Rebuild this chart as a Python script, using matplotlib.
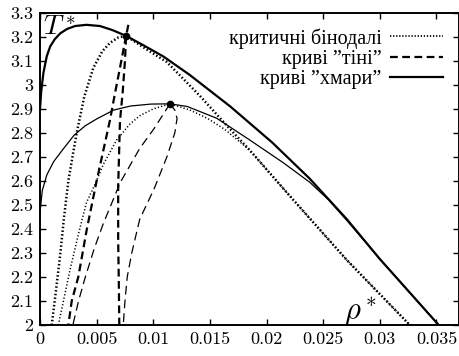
import matplotlib
matplotlib.use("Agg")
import matplotlib.pyplot as plt

plt.rcParams['font.family'] = ['cmr10', 'DejaVu Serif']
plt.rcParams['mathtext.fontset'] = 'cm'
plt.rcParams['axes.formatter.use_mathtext'] = True

# криві "хмари" (велика та мала системи)
cloud_big_x = [0.0, 0.0001, 0.0003, 0.0006, 0.0009, 0.0013, 0.0018, 0.0024, 0.0031, 0.0041,
               0.0053, 0.0064, 0.0076, 0.0092, 0.0109, 0.0132, 0.0168, 0.0205, 0.0238,
               0.0271, 0.0300, 0.0352]
cloud_big_y = [2.90, 2.97, 3.05, 3.12, 3.16, 3.19, 3.215, 3.233, 3.245, 3.25,
               3.245, 3.228, 3.204, 3.163, 3.118, 3.042, 2.91, 2.76, 2.61,
               2.44, 2.275, 2.0]
cloud_small_x = [0.0, 0.0002, 0.0006, 0.0012, 0.002, 0.003, 0.004, 0.005, 0.0065, 0.008,
                 0.0098, 0.01147, 0.0130, 0.0156, 0.0185, 0.0215, 0.0238, 0.0255, 0.0271,
                 0.0300, 0.0352]
cloud_small_y = [2.47, 2.56, 2.625, 2.68, 2.73, 2.79, 2.83, 2.858, 2.895, 2.912,
                 2.92, 2.921, 2.91, 2.861, 2.771, 2.675, 2.595, 2.52, 2.435,
                 2.275, 2.0]

# критичні бінодалі
binod_big_x = [0.00103, 0.0014, 0.0018, 0.0021, 0.0025, 0.0029, 0.00324, 0.0039, 0.0047,
               0.0055, 0.00618, 0.0069, 0.0076, 0.0082, 0.0095, 0.0112, 0.0141, 0.0165,
               0.0185, 0.0221, 0.0271, 0.03265]
binod_big_y = [2.0, 2.14, 2.30, 2.44, 2.60, 2.71, 2.80, 2.95, 3.07,
               3.14, 3.175, 3.197, 3.204, 3.185, 3.145, 3.095, 2.955, 2.83,
               2.729, 2.535, 2.27, 2.0]
binod_small_x = [0.00162, 0.00265, 0.0034, 0.0041, 0.0049, 0.0056, 0.00676, 0.0079, 0.00882,
                 0.0100, 0.01147, 0.0132, 0.0148, 0.0163, 0.0185, 0.0221, 0.0271, 0.03265]
binod_small_y = [2.0, 2.23, 2.38, 2.51, 2.59, 2.67, 2.77, 2.835, 2.872,
                 2.90, 2.921, 2.896, 2.86, 2.815, 2.729, 2.535, 2.27, 2.0]

# криві "тіні"
shadow_a_x = [0.0076, 0.00708, 0.00662, 0.00618, 0.005, 0.00412, 0.00338, 0.0028, 0.0025]
shadow_a_y = [3.204, 3.076, 2.965, 2.854, 2.60, 2.396, 2.2, 2.1, 2.0]
shadow_b_x = [0.0078, 0.0076, 0.0075, 0.0073, 0.00706, 0.0069, 0.0069, 0.00695, 0.0070]
shadow_b_y = [3.25, 3.204, 3.10, 2.97, 2.85, 2.576, 2.354, 2.2, 2.0]
shadow_c_x = [0.01147, 0.0101, 0.0088, 0.0071, 0.0056, 0.0048, 0.0040, 0.0034, 0.0029]
shadow_c_y = [2.921, 2.82, 2.735, 2.595, 2.424, 2.32, 2.20, 2.10, 2.0]
shadow_d_x = [0.01147, 0.0119, 0.0121, 0.0119, 0.0112, 0.0101, 0.0088, 0.0081, 0.0077, 0.0075, 0.00735]
shadow_d_y = [2.921, 2.895, 2.86, 2.80, 2.70, 2.57, 2.44, 2.30, 2.20, 2.10, 2.0]

crit_x = [0.0076, 0.01147]
crit_y = [3.204, 2.921]

xticks = [0, 0.005, 0.01, 0.015, 0.02, 0.025, 0.03, 0.035]
xtick_labels = ['0', '0.005', '0.01', '0.015', '0.02', '0.025', '0.03', '0.035']
yticks = [2.0, 2.1, 2.2, 2.3, 2.4, 2.5, 2.6, 2.7, 2.8, 2.9, 3.0, 3.1, 3.2, 3.3]
ytick_labels = ['2', '2.1', '2.2', '2.3', '2.4', '2.5', '2.6', '2.7', '2.8', '2.9', '3', '3.1', '3.2', '3.3']

fig = plt.figure(figsize=(4.6, 3.56), dpi=100)
ax = fig.add_axes([0.087, 0.087, 0.911, 0.877])

ax.plot(binod_big_x, binod_big_y, color='k', lw=1.8, ls=(0, (0.6, 0.9)))
ax.plot(binod_small_x, binod_small_y, color='k', lw=1.1, ls=(0, (0.8, 1.4)))
ax.plot(shadow_a_x, shadow_a_y, color='k', lw=1.6, dashes=(3.5, 2))
ax.plot(shadow_b_x, shadow_b_y, color='k', lw=1.6, dashes=(3.5, 2))
ax.plot(shadow_c_x, shadow_c_y, color='k', lw=0.9, dashes=(7, 4))
ax.plot(shadow_d_x, shadow_d_y, color='k', lw=0.9, dashes=(7, 4))
ax.plot(cloud_small_x, cloud_small_y, color='k', lw=0.9)
ax.plot(cloud_big_x, cloud_big_y, color='k', lw=1.6)
ax.plot(crit_x, crit_y, 'o', color='k', ms=4.5)

# для легенди
ax.plot([], [], color='k', lw=1.3, ls=(0, (0.7, 1.0)), label='критичні бінодалі')
ax.plot([], [], color='k', lw=1.6, dashes=(3.5, 2), label='криві ”тіні”')
ax.plot([], [], color='k', lw=1.6, label='криві ”хмари”')
handles, labels = ax.get_legend_handles_labels()
ax.legend(handles, labels, loc='upper right', bbox_to_anchor=(0.99, 0.99), frameon=False,
          markerfirst=False, handlelength=2.6, handletextpad=0.45, labelspacing=0.05,
          prop={'family': 'Liberation Serif', 'size': 14.5}, borderaxespad=0.2)

ax.set_xlim(0, 0.037)
ax.set_ylim(2.0, 3.3)
ax.set_xticks(xticks)
ax.set_xticklabels(xtick_labels)
ax.set_yticks(yticks)
ax.set_yticklabels(ytick_labels)
ax.tick_params(direction='in', top=True, right=True, length=4, width=1.0, labelsize=13, pad=5)
for s in ax.spines.values():
    s.set_linewidth(1.4)

ax.text(0.008, 0.995, r'$T^*$', transform=ax.transAxes, fontsize=20, va='top', ha='left')
ax.text(0.725, -0.01, r'$\rho^*$', transform=ax.transAxes, fontsize=22, va='bottom', ha='left')

fig.savefig('out.png', dpi=100)
